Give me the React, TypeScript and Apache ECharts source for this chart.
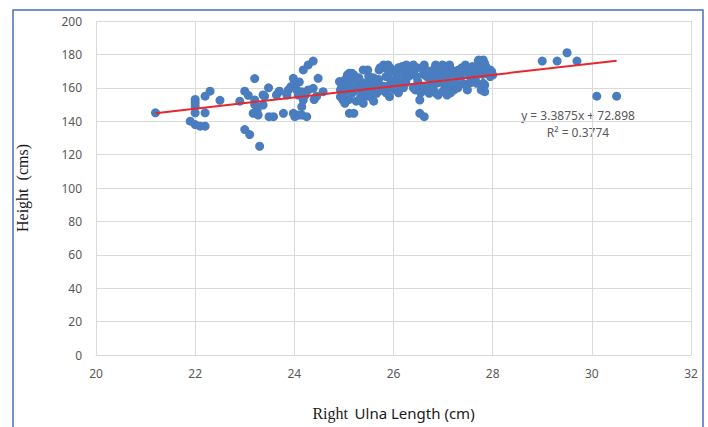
import React, { useEffect, useRef } from "react";
import * as echarts from "echarts";

const xTicks = { min: 20, max: 32, interval: 2 };
const yTicks = { min: 0, max: 200, interval: 20 };

const slope = 3.3875;
const intercept = 72.898;
const rSquared = 0.3774;
const trendRange = [21.2, 30.5];

const leftPoints: number[][] = [
  [21.2, 145], [21.9, 140], [22.0, 138], [22.1, 137], [22.2, 137],
  [22.0, 153], [22.0, 151], [22.0, 149], [22.0, 145], [22.2, 145],
  [22.2, 155], [22.3, 158], [22.5, 152.5], [22.9, 152], [23.0, 158],
  [23.07, 155.5], [23.2, 165.5], [23.0, 135], [23.1, 132], [23.3, 125],
  [23.17, 144.7], [23.2, 152.7], [23.25, 146.7], [23.27, 143.7], [23.2, 150],
  [23.37, 155.7], [23.48, 160], [23.37, 149.7], [23.49, 142.7], [23.58, 142.7],
  [23.64, 155.7], [23.69, 157.7], [23.78, 144.7], [23.85, 155.7], [23.88, 158.7],
  [23.93, 160.7], [23.98, 165.7], [23.98, 144.7], [24.01, 142.7], [24.08, 143.7],
  [24.05, 158.7], [24.08, 155.7], [24.18, 170.7], [24.28, 173.7], [24.38, 176],
  [24.15, 157.7], [24.22, 155.7], [24.28, 158.7], [24.38, 159.7], [24.48, 165.7],
  [24.18, 152.7], [24.15, 148.7], [24.15, 143.7], [24.25, 142.7], [24.58, 157.7],
  [24.0, 163], [24.1, 163.5], [24.4, 153], [24.45, 155], [23.4, 155], [23.7, 158],
];

const clusterPoints: number[][] = [
  [24.91, 163.7], [24.93, 158.7], [24.93, 154.7], [24.98, 152.7], [25.02, 150.7],
  [25.02, 164.7], [25.07, 167.7], [25.11, 168.7], [25.16, 168.7], [25.11, 160.7],
  [25.16, 156.7], [25.11, 144.7], [25.2, 144.7], [25.2, 167.7], [25.3, 162.7],
  [25.34, 154.7], [25.39, 170.7], [25.39, 150.7], [25.48, 170.7], [25.43, 158.7],
  [25.48, 162.7], [25.53, 154.7], [25.57, 164.7], [25.62, 160.7], [25.66, 156.7],
  [25.71, 170.7], [25.75, 160.7], [25.8, 173.7], [25.85, 166.7], [25.89, 173.7],
  [25.92, 154.7], [25.94, 162.7], [25.98, 170.7], [26.03, 158.7], [26.07, 166.7],
  [26.12, 162.7], [26.17, 172.7], [26.21, 169.7], [26.26, 173.7], [26.3, 166.7],
  [26.35, 169.7], [26.4, 173.7], [26.44, 158.7], [26.49, 163.7], [26.53, 152.7],
  [26.53, 144.7], [26.62, 142.7], [26.58, 159.7], [26.62, 173.7], [26.67, 166.7],
  [26.72, 156.7], [26.76, 162.7], [26.81, 170.7], [26.85, 173.7], [26.9, 155.7],
  [26.94, 166.7], [26.99, 173.7], [27.04, 160.7], [27.08, 155.7], [27.13, 173.7],
  [27.17, 162.7], [27.22, 158.7], [27.26, 166.7], [27.31, 170.7], [27.4, 162.7],
  [27.45, 173.7], [27.49, 158.7], [27.54, 166.7], [27.59, 172.7], [27.63, 170.7],
  [27.68, 162.7], [27.72, 176.7], [27.77, 158.7], [27.81, 176.7], [27.81, 162.7],
  [27.86, 172.7], [27.95, 170.7], [28.0, 167.7],
  [25.73, 172], [25.83, 172], [25.93, 172], [26.1, 172], [26.2, 172],
  [26.37, 172], [26.47, 172], [26.57, 172], [26.84, 172], [26.94, 172],
  [27.04, 172], [27.14, 172], [27.38, 172], [27.48, 172], [27.58, 172],
  [27.71, 172], [27.71, 176],
  [24.95, 160], [25.0, 157], [25.05, 162], [25.1, 153], [25.15, 165],
  [25.2, 158], [25.25, 161], [25.25, 152], [25.3, 166], [25.35, 159],
  [25.4, 163], [25.45, 155], [25.5, 167], [25.5, 160], [25.55, 158],
  [25.6, 152], [25.6, 166], [25.65, 163], [25.7, 158], [25.7, 165],
  [25.8, 161], [25.85, 157], [25.9, 168], [25.95, 160], [26.0, 164],
  [26.05, 170], [26.1, 157], [26.15, 165], [26.2, 160], [26.25, 163],
  [26.3, 170], [26.4, 160], [26.45, 167], [26.5, 162], [26.55, 157],
  [26.6, 168], [26.65, 161], [26.7, 170], [26.7, 158], [26.75, 165],
  [26.8, 160], [26.8, 167], [26.85, 157], [26.9, 163], [26.95, 169],
  [27.0, 158], [27.0, 165], [27.05, 170], [27.1, 162], [27.1, 167],
  [27.15, 157], [27.2, 170], [27.25, 163], [27.3, 160], [27.35, 167],
  [27.4, 170], [27.45, 162], [27.5, 169], [27.55, 163], [27.6, 167],
  [27.65, 165], [27.7, 168], [27.75, 172], [27.8, 168],
  [27.84, 174.6], [27.91, 170.7], [27.98, 169.7], [27.95, 166.7], [27.84, 161.7],
  [27.84, 157.7],
];

const rightPoints: number[][] = [
  [29.0, 176], [29.3, 176], [29.5, 181], [29.7, 176], [30.1, 155], [30.5, 155],
];

const equationText = `y = ${slope}x + ${intercept}`;
const r2Text = `R² = ${rSquared}`;

export default function App() {
  const ref = useRef<HTMLDivElement>(null);
  useEffect(() => {
    if (!ref.current) return;
    const chart = echarts.init(ref.current, undefined, { renderer: "svg" });
    const scatterData = [...leftPoints, ...clusterPoints, ...rightPoints];
    const trendData = trendRange.map((x) => [x, slope * x + intercept]);
    const sans = "'Noto Sans', 'Open Sans', sans-serif";
    const serif = "'Liberation Serif', 'DejaVu Serif', serif";
    chart.setOption({
      animation: false,
      backgroundColor: "#ffffff",
      grid: {
        left: 96,
        right: 17,
        top: 21,
        bottom: 72,
        containLabel: false,
        outerBoundsMode: "none",
      },
      xAxis: {
        type: "value",
        min: xTicks.min,
        max: xTicks.max,
        interval: xTicks.interval,
        axisLine: { show: true, lineStyle: { color: "#d9d9d9", width: 1 } },
        axisTick: { show: false },
        splitLine: { show: true, lineStyle: { color: "#d9d9d9", width: 1 } },
        axisLabel: { color: "#595959", fontSize: 12, fontFamily: sans, margin: 12 },
        name: "{a|Right}  {b|Ulna Length (cm)}",
        nameLocation: "middle",
        nameGap: 50,
        nameTextStyle: {
          rich: {
            a: { fontFamily: serif, fontSize: 16, color: "#1a1a1a" },
            b: { fontFamily: sans, fontSize: 15, color: "#1a1a1a" },
          },
        },
      },
      yAxis: {
        type: "value",
        min: yTicks.min,
        max: yTicks.max,
        interval: yTicks.interval,
        axisLine: { show: false },
        axisTick: { show: false },
        splitLine: { show: true, lineStyle: { color: "#d9d9d9", width: 1 } },
        axisLabel: { color: "#595959", fontSize: 12, fontFamily: sans, margin: 14 },
        name: "Height  (cms)",
        nameLocation: "middle",
        nameGap: 66,
        nameTextStyle: { fontFamily: serif, fontSize: 16, color: "#1a1a1a" },
      },
      series: [
        {
          type: "scatter",
          data: scatterData,
          symbol: "circle",
          symbolSize: 9,
          itemStyle: { color: "#4a7dbf", opacity: 1 },
          z: 2,
        },
        {
          type: "line",
          data: trendData,
          showSymbol: false,
          symbol: "none",
          lineStyle: { color: "#e8262c", width: 2 },
          z: 3,
        },
      ],
      graphic: [
        {
          type: "rect",
          shape: { x: 13, y: 10, width: 690, height: 440 },
          style: { fill: "none", stroke: "#4a70b8", lineWidth: 1.5 },
          silent: true,
        },
        {
          type: "text",
          x: 578,
          y: 115,
          style: {
            text: equationText,
            fill: "#595959",
            fontSize: 12,
            fontFamily: sans,
            textAlign: "center",
            textVerticalAlign: "middle",
          },
        },
        {
          type: "text",
          x: 578,
          y: 132,
          style: {
            text: r2Text,
            fill: "#595959",
            fontSize: 12,
            fontFamily: sans,
            textAlign: "center",
            textVerticalAlign: "middle",
          },
        },
      ],
    });
    return () => chart.dispose();
  }, []);
  return (
    <div
      ref={ref}
      style={{ position: "fixed", left: 0, top: 0, width: 708, height: 427 }}
    />
  );
}
